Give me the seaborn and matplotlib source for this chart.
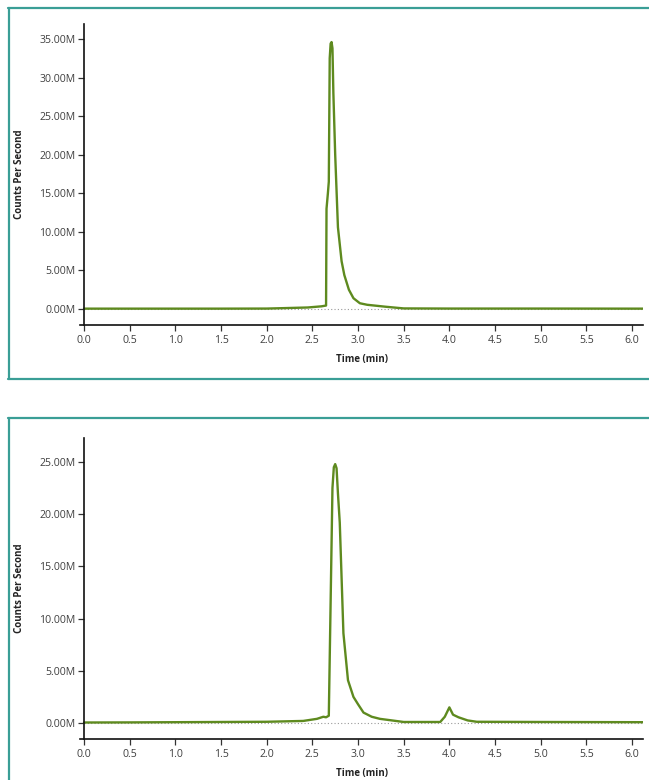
import matplotlib
matplotlib.use("Agg")
import matplotlib.pyplot as plt
from matplotlib.lines import Line2D
from matplotlib.ticker import FuncFormatter
import seaborn as sns
import pandas as pd

sns.set_style("white")
plt.rcParams['font.family'] = ['Open Sans', 'DejaVu Sans']

# ---- Data ----
time_a = [0.0, 0.5, 1.0, 1.5, 2.0, 2.2, 2.45, 2.6, 2.65, 2.655, 2.67, 2.68, 2.69, 2.70, 2.71, 2.72,
          2.73, 2.75, 2.78, 2.82, 2.85, 2.90, 2.95, 3.02, 3.1, 3.3, 3.5, 4.0, 5.0, 6.0, 6.12]
cps_a = [0.05e6, 0.05e6, 0.05e6, 0.05e6, 0.06e6, 0.12e6, 0.2e6, 0.35e6, 0.45e6, 13.0e6, 15.0e6, 16.5e6,
         32.5e6, 34.4e6, 34.6e6, 33.8e6, 28.0e6, 20.0e6, 10.6e6, 6.2e6, 4.4e6, 2.5e6, 1.4e6, 0.75e6,
         0.55e6, 0.3e6, 0.08e6, 0.06e6, 0.06e6, 0.05e6, 0.05e6]

time_b = [0.0, 0.5, 1.0, 1.5, 2.0, 2.4, 2.55, 2.62, 2.65, 2.68, 2.72, 2.735, 2.75, 2.765, 2.78, 2.80,
          2.84, 2.89, 2.95, 3.0, 3.06, 3.15, 3.24, 3.5, 3.9, 3.95, 4.0, 4.04, 4.1, 4.2, 4.3, 5.0, 6.12]
cps_b = [0.05e6, 0.06e6, 0.08e6, 0.1e6, 0.12e6, 0.2e6, 0.4e6, 0.6e6, 0.55e6, 0.7e6, 22.5e6, 24.5e6,
         24.8e6, 24.4e6, 22.0e6, 19.2e6, 8.6e6, 4.1e6, 2.5e6, 1.8e6, 1.0e6, 0.6e6, 0.4e6, 0.1e6, 0.1e6,
         0.6e6, 1.5e6, 0.8e6, 0.55e6, 0.25e6, 0.12e6, 0.1e6, 0.08e6]

x_ticks = [0.0, 0.5, 1.0, 1.5, 2.0, 2.5, 3.0, 3.5, 4.0, 4.5, 5.0, 5.5, 6.0]
y_ticks_a = [0, 5e6, 10e6, 15e6, 20e6, 25e6, 30e6, 35e6]
y_ticks_b = [0, 5e6, 10e6, 15e6, 20e6, 25e6]

x_label = "Time (min)"
y_label = "Counts Per Second"

LINE = "#5e8a1f"
TEAL = "#3a9e96"
TXT = "#404040"

W, H = 649, 780
fig = plt.figure(figsize=(W / 100, H / 100), dpi=100)


def px_axes(left, top, right, bottom):
    return fig.add_axes([left / W, 1 - bottom / H, (right - left) / W, (bottom - top) / H])


def style(ax, t, c, yticks, ylim):
    df = pd.DataFrame({"time": t, "cps": c})
    sns.lineplot(data=df, x="time", y="cps", ax=ax, color=LINE, linewidth=1.7, sort=False)
    ax.axhline(0, color="#9a9a9a", linestyle=(0, (1, 2)), linewidth=0.8, zorder=0,
               xmin=0.044 / 6.164)
    ax.set_xlim(-0.044, 6.12)
    ax.set_ylim(*ylim)
    ax.set_xticks(x_ticks)
    ax.xaxis.set_major_formatter(FuncFormatter(lambda v, p: f"{v:.1f}"))
    ax.set_yticks(yticks)
    ax.yaxis.set_major_formatter(FuncFormatter(lambda v, p: f"{v / 1e6:.2f}M"))
    for s in ["top", "right"]:
        ax.spines[s].set_visible(False)
    ax.spines["left"].set_position(("data", 0))
    for s in ["left", "bottom"]:
        ax.spines[s].set_color("#111111")
        ax.spines[s].set_linewidth(1.2)
    ax.tick_params(axis="y", direction="out", length=4.5, width=0.9, color="#333333",
                   pad=1.5, labelsize=7.6, labelcolor=TXT, left=True)
    ax.tick_params(axis="x", direction="out", length=4.5, width=0.9, color="#333333",
                   pad=3, labelsize=7.6, labelcolor=TXT, bottom=True)
    ax.set_xlabel(x_label, fontsize=7, fontweight="bold", color="#222222")
    ax.set_ylabel(y_label, fontsize=7, fontweight="bold", color="#222222")
    ax.xaxis.set_label_coords(0.5, -0.095)
    ax.yaxis.set_label_coords(-0.097, 0.5)
    ax.grid(False)


ax1 = px_axes(80, 24, 643, 325)
style(ax1, time_a, cps_a, y_ticks_a, (-2.07e6, 36.94e6))

ax2 = px_axes(80, 438, 643, 739)
style(ax2, time_b, cps_b, y_ticks_b, (-1.53e6, 27.3e6))


# panel borders (teal frames)
def hline(y, x0, x1):
    fig.add_artist(Line2D([x0 / W, x1 / W], [1 - y / H, 1 - y / H], color=TEAL, linewidth=1.6))


def vline(x, y0, y1):
    fig.add_artist(Line2D([x / W, x / W], [1 - y0 / H, 1 - y1 / H], color=TEAL, linewidth=1.6))


hline(8, 8, W)
hline(378.5, 8, W)
vline(8.5, 8, 378.5)
hline(417.5, 8, W)
vline(8.5, 417.5, H)

fig.savefig("out.png", dpi=100)
